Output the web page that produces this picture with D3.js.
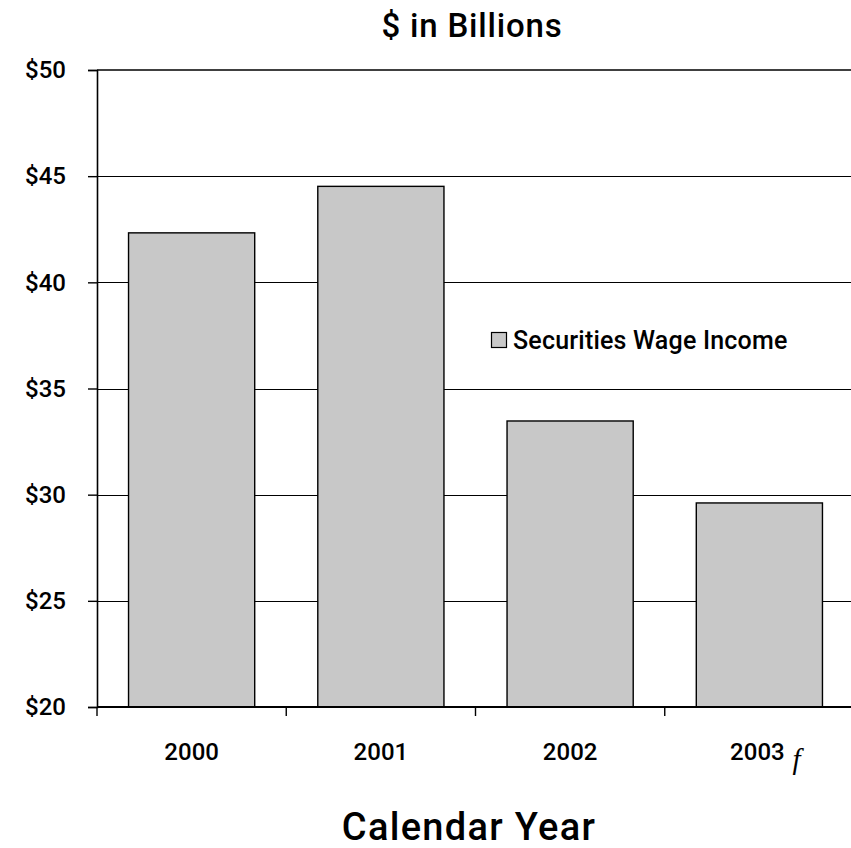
<!DOCTYPE html>
<html>
<head>
<meta charset="utf-8">
<script src="https://cdn.jsdelivr.net/npm/d3@7"></script>
<style>
  html, body { margin: 0; padding: 0; background: #fff; }
  svg { display: block; }
  text { font-family: Roboto, "Liberation Sans", Arial, sans-serif; font-weight: 500; fill: #000; }
</style>
</head>
<body>
<div id="chart"></div>
<script>
// Securities industry wage income by calendar year ($ billions)
const years = ["2000", "2001", "2002", "2003"];
const wageIncome = [42.33, 44.52, 33.47, 29.61];
const yTicks = [20, 25, 30, 35, 40, 45, 50];
const seriesName = "Securities Wage Income";

const width = 851, height = 848;
const plot = { left: 97, top: 70, right: 854, bottom: 707 };
const sans = "Roboto, 'Liberation Sans', Arial, sans-serif";

const svg = d3.select("#chart").append("svg")
  .attr("width", width).attr("height", height);

const x = d3.scaleBand()
  .domain(years)
  .range([plot.left, plot.right])
  .paddingInner(1 / 3)
  .paddingOuter(1 / 6);

const y = d3.scaleLinear()
  .domain([20, 50])
  .range([plot.bottom, plot.top]);

// horizontal gridlines
svg.append("g")
  .selectAll("line")
  .data(yTicks.filter(d => d > 20 && d < 50))
  .join("line")
  .attr("x1", plot.left).attr("x2", width)
  .attr("y1", d => Math.round(y(d)) + 0.5).attr("y2", d => Math.round(y(d)) + 0.5)
  .attr("stroke", "#000").attr("stroke-width", 1.2);

// top border of the plot area
svg.append("line")
  .attr("x1", plot.left).attr("x2", width)
  .attr("y1", y(50)).attr("y2", y(50))
  .attr("stroke", "#000").attr("stroke-width", 1.6);

// bars
svg.append("g")
  .selectAll("rect")
  .data(years.map((yr, i) => ({ yr, v: wageIncome[i] })))
  .join("rect")
  .attr("x", d => x(d.yr))
  .attr("width", x.bandwidth())
  .attr("y", d => y(d.v))
  .attr("height", d => y(20) - y(d.v))
  .attr("fill", "#c8c8c8")
  .attr("stroke", "#000")
  .attr("stroke-width", 1.4);

// y axis
const yAxis = svg.append("g")
  .attr("transform", `translate(${plot.left},0)`)
  .call(d3.axisLeft(y).tickValues(yTicks).tickSize(9).tickPadding(22)
    .tickFormat(d => "$" + d));
yAxis.select(".domain").attr("stroke", "#000").attr("stroke-width", 1.6);
yAxis.selectAll(".tick line").attr("stroke", "#000").attr("stroke-width", 1.4);
yAxis.selectAll(".tick text")
  .attr("font-family", null).attr("font-size", null)
  .style("font-family", sans).style("font-weight", 500)
  .style("font-size", "24px").attr("fill", "#000");

// x axis with ticks at the category boundaries
const step = x.step();
const boundaries = d3.range(years.length + 1).map(i => plot.left + i * step);
svg.append("line")
  .attr("x1", plot.left).attr("x2", width)
  .attr("y1", y(20)).attr("y2", y(20))
  .attr("stroke", "#000").attr("stroke-width", 2);
svg.append("g")
  .selectAll("line")
  .data(boundaries)
  .join("line")
  .attr("x1", d => d).attr("x2", d => d)
  .attr("y1", y(20)).attr("y2", y(20) + 9)
  .attr("stroke", "#000").attr("stroke-width", 1.4);

// category labels
svg.append("g")
  .selectAll("text")
  .data(years)
  .join("text")
  .attr("x", d => x(d) + x.bandwidth() / 2 - (d === years[years.length - 1] ? 2 : 0))
  .attr("y", 760)
  .attr("text-anchor", "middle")
  .style("font-size", "24px")
  .text(d => d);

// forecast marker after the last year
const lastX = x(years[years.length - 1]) + x.bandwidth() / 2;
svg.append("text")
  .attr("x", lastX + 33)
  .attr("y", 769)
  .style("font-family", "'Liberation Serif', 'Times New Roman', serif")
  .style("font-style", "italic")
  .style("font-weight", 400)
  .style("font-size", "29px")
  .text("f");

// legend
const legend = svg.append("g").attr("transform", "translate(491.5,332.5)");
legend.append("rect")
  .attr("width", 15).attr("height", 15)
  .attr("fill", "#c8c8c8").attr("stroke", "#000").attr("stroke-width", 1.2);
legend.append("text")
  .attr("x", 21.5).attr("y", 16)
  .style("font-size", "25px")
  .style("letter-spacing", "0.2px")
  .text(seriesName);

// title
svg.append("text")
  .attr("x", 472).attr("y", 37)
  .attr("text-anchor", "middle")
  .style("font-size", "33px")
  .style("letter-spacing", "0.8px")
  .text("$ in Billions");

// axis title
svg.append("text")
  .attr("x", 469).attr("y", 840)
  .attr("text-anchor", "middle")
  .style("font-size", "38px")
  .style("letter-spacing", "1.3px")
  .text("Calendar Year");
</script>
</body>
</html>
